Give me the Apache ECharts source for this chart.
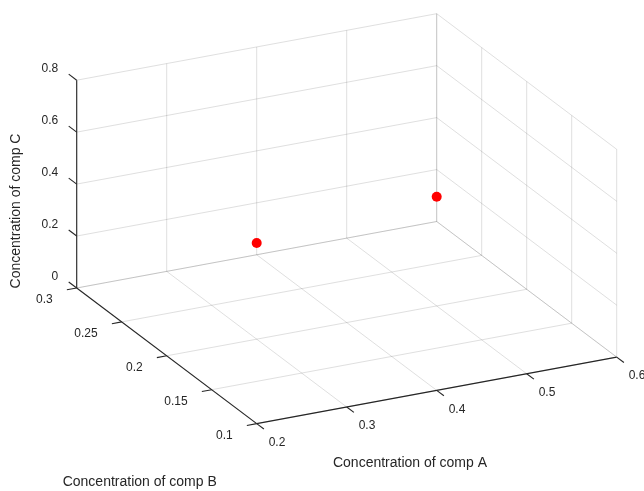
<!DOCTYPE html>
<html>
<head>
<meta charset="utf-8">
<script src="https://cdn.jsdelivr.net/npm/echarts@6/dist/echarts.min.js"></script>
<style>
  html, body { margin: 0; padding: 0; background: #fff; }
  #chart { width: 644px; height: 491px; }
</style>
</head>
<body>
<div id="chart"></div>
<script>
// Measured concentrations (one entry per sample)
const compA = [0.3, 0.5];
const compB = [0.2, 0.2];
const compC = [0.37, 0.42];

// Axis ticks and their labels
const ticksA = [0.2, 0.3, 0.4, 0.5, 0.6];
const ticksB = [0.1, 0.15, 0.2, 0.25, 0.3];
const ticksC = [0, 0.2, 0.4, 0.6, 0.8];
const labelsA = ['0.2', '0.3', '0.4', '0.5', '0.6'];
const labelsB = ['0.1', '0.15', '0.2', '0.25', '0.3'];
const labelsC = ['0', '0.2', '0.4', '0.6', '0.8'];

// Axis limits
const rangeA = [0.2, 0.6];
const rangeB = [0.1, 0.3];
const rangeC = [0, 0.8];

// Axis titles
const titleA = 'Concentration of comp A';
const titleB = 'Concentration of comp B';
const titleC = 'Concentration of comp C';

// Orthographic view of the plot box on the page plane.
// anchor: corner (A min, B min, C min); edges: page vectors spanning each full axis range.
const view = {
  anchor: [256.7, 423.6],
  edgeA: [360, -66.5],
  edgeB: [-180, -135.6],
  edgeC: [0, -207.8]
};

function project(a, b, c) {
  const ta = (a - rangeA[0]) / (rangeA[1] - rangeA[0]);
  const tb = (b - rangeB[0]) / (rangeB[1] - rangeB[0]);
  const tc = (c - rangeC[0]) / (rangeC[1] - rangeC[0]);
  return [
    view.anchor[0] + ta * view.edgeA[0] + tb * view.edgeB[0] + tc * view.edgeC[0],
    view.anchor[1] + ta * view.edgeA[1] + tb * view.edgeB[1] + tc * view.edgeC[1]
  ];
}

const FONT = "'Liberation Sans', Arial, Helvetica, sans-serif";
const INK = '#262626';
const GRID = 'rgba(38,38,38,0.15)';

const [a0, a1] = rangeA, [b0, b1] = rangeB, [c0, c1] = rangeC;

// Grid lines on the two back walls and the floor: [a1,b1,c1,a2,b2,c2]
const gridSegments = [];
ticksA.forEach(a => gridSegments.push([a, b1, c0, a, b1, c1]));      // back wall verticals
ticksC.forEach(c => gridSegments.push([a0, b1, c, a1, b1, c]));      // back wall horizontals
ticksB.forEach(b => gridSegments.push([a1, b, c0, a1, b, c1]));      // side wall verticals
ticksC.forEach(c => gridSegments.push([a1, b0, c, a1, b1, c]));      // side wall horizontals
ticksA.forEach(a => gridSegments.push([a, b0, c0, a, b1, c0]));      // floor, constant A
ticksB.forEach(b => gridSegments.push([a0, b, c0, a1, b, c0]));      // floor, constant B

// Axis lines
const axisSegments = [
  [a0, b0, c0, a1, b0, c0],
  [a0, b0, c0, a0, b1, c0],
  [a0, b1, c0, a0, b1, c1]
];

// Tick marks: [a,b,c, da,db,dc, pixelLength]
const tickMarks = [];
ticksA.forEach(a => tickMarks.push([a, b0, c0, 0, -1, 0, 9]));
ticksB.forEach(b => tickMarks.push([a0, b, c0, -1, 0, 0, 10]));
ticksC.forEach(c => tickMarks.push([a0, b1, c, 0, 1, 0, 10]));

// Tick labels: [a,b,c, axisIndex, labelIndex]
const tickLabels = [];
ticksA.forEach((a, i) => tickLabels.push([a, b0, c0, 0, i]));
ticksB.forEach((b, i) => tickLabels.push([a0, b, c0, 1, i]));
ticksC.forEach((c, i) => tickLabels.push([a0, b1, c, 2, i]));
const labelTexts = [labelsA, labelsB, labelsC];
const labelPlacement = [
  { dx: 12, dy: 19, align: 'left' },
  { dx: -24, dy: 12, align: 'right' },
  { dx: -18.5, dy: -11.5, align: 'right' }
];

function segmentRenderer(stroke, width) {
  return function (params, api) {
    const p = api.coord(project(api.value(0), api.value(1), api.value(2)));
    const q = api.coord(project(api.value(3), api.value(4), api.value(5)));
    return {
      type: 'line',
      shape: { x1: p[0], y1: p[1], x2: q[0], y2: q[1] },
      style: { stroke: stroke, lineWidth: width }
    };
  };
}

function titleText(text, x, y, rotation) {
  return {
    type: 'text', x: x, y: y, rotation: rotation || 0, silent: true,
    style: { text: text, font: '14px ' + FONT, fill: INK, align: 'center', verticalAlign: 'middle' }
  };
}

const chart = echarts.init(document.getElementById('chart'), null, { renderer: 'canvas' });

chart.setOption({
  animation: false,
  backgroundColor: '#ffffff',
  grid: { left: 0, right: 0, top: 0, bottom: 0 },
  xAxis: { type: 'value', min: 0, max: 644, show: false },
  yAxis: { type: 'value', min: 0, max: 491, inverse: true, show: false },
  graphic: [
    titleText(titleA, 410, 463.5),
    titleText(titleB, 139.7, 482),
    titleText(titleC, 16.5, 211, Math.PI / 2)
  ],
  series: [
    {
      type: 'custom',
      coordinateSystem: 'cartesian2d',
      silent: true,
      z: 1,
      data: gridSegments,
      renderItem: segmentRenderer(GRID, 1)
    },
    {
      type: 'custom',
      coordinateSystem: 'cartesian2d',
      silent: true,
      z: 2,
      data: axisSegments,
      renderItem: segmentRenderer(INK, 1.1)
    },
    {
      type: 'custom',
      coordinateSystem: 'cartesian2d',
      silent: true,
      z: 2,
      data: tickMarks,
      renderItem: function (params, api) {
        const a = api.value(0), b = api.value(1), c = api.value(2);
        const p = api.coord(project(a, b, c));
        const q = api.coord(project(a + api.value(3) * 0.01, b + api.value(4) * 0.01, c + api.value(5) * 0.01));
        const len = Math.hypot(q[0] - p[0], q[1] - p[1]);
        const L = api.value(6);
        return {
          type: 'line',
          shape: { x1: p[0], y1: p[1], x2: p[0] + (q[0] - p[0]) / len * L, y2: p[1] + (q[1] - p[1]) / len * L },
          style: { stroke: INK, lineWidth: 1.1 }
        };
      }
    },
    {
      type: 'custom',
      coordinateSystem: 'cartesian2d',
      silent: true,
      z: 3,
      data: tickLabels,
      renderItem: function (params, api) {
        const p = api.coord(project(api.value(0), api.value(1), api.value(2)));
        const axis = api.value(3);
        const place = labelPlacement[axis];
        return {
          type: 'text',
          x: p[0] + place.dx,
          y: p[1] + place.dy,
          style: {
            text: labelTexts[axis][api.value(4)],
            font: '12px ' + FONT,
            fill: INK,
            align: place.align,
            verticalAlign: 'middle'
          }
        };
      }
    },
    {
      type: 'scatter',
      z: 4,
      symbol: 'circle',
      symbolSize: 10,
      itemStyle: { color: '#ff0000', opacity: 1 },
      data: compA.map((a, i) => project(a, compB[i], compC[i]))
    }
  ]
});
</script>
</body>
</html>
